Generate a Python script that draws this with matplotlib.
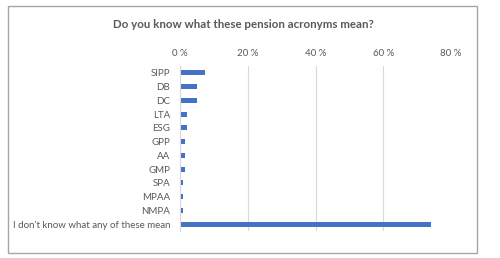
import matplotlib

matplotlib.use("Agg")

import matplotlib.pyplot as plt
from matplotlib.patches import Rectangle

categories = ["SIPP", "DB", "DC", "LTA", "ESG", "GPP", "AA", "GMP", "SPA",
              "MPAA", "NMPA", "I don't know what any of these mean"]
values = [7.5, 4.9, 4.9, 2.1, 2.1, 1.6, 1.4, 1.4, 1.0, 1.0, 0.8, 74.0]
ticks = [0, 20, 40, 60, 80]
tick_labels = [f"{t} %" for t in ticks]

TEXT = "#595959"
plt.rcParams["font.family"] = ["Lato", "DejaVu Sans"]

fig = plt.figure(figsize=(5.0, 2.58), dpi=100)
fig.patch.set_facecolor("white")
fig.add_artist(Rectangle((8 / 500, 5 / 258), 469 / 500, 247 / 258, transform=fig.transFigure,
                         fill=False, edgecolor="#a6a6a6", linewidth=1.0))

ax = fig.add_axes([180 / 500, 1 - 231 / 258, (451 - 180) / 500, (231 - 66) / 258])
y = list(range(len(categories)))
ax.barh(y, values, height=0.38, color="#4472c4")
ax.set_ylim(len(categories) - 0.5, -0.5)
ax.set_xlim(0, 80)
ax.set_yticks(y)
ax.set_yticklabels(categories, fontsize=7, color=TEXT)
ax.set_xticks(ticks)
ax.set_xticklabels(tick_labels, fontsize=7, color=TEXT)
ax.xaxis.tick_top()
ax.tick_params(axis="both", length=0)
ax.tick_params(axis="y", pad=7)
ax.tick_params(axis="x", pad=6)
ax.grid(axis="x", color="#d9d9d9", linewidth=0.8)
ax.set_axisbelow(True)
for side in ["top", "right", "bottom"]:
    ax.spines[side].set_visible(False)
ax.spines["left"].set_color("#d9d9d9")
ax.spines["left"].set_linewidth(0.8)

fig.text(243 / 500, 1 - 25 / 258, "Do you know what these pension acronyms mean?",
         ha="center", va="center", fontsize=8.3, fontweight="bold", color=TEXT)

fig.savefig("out.png", dpi=100)
